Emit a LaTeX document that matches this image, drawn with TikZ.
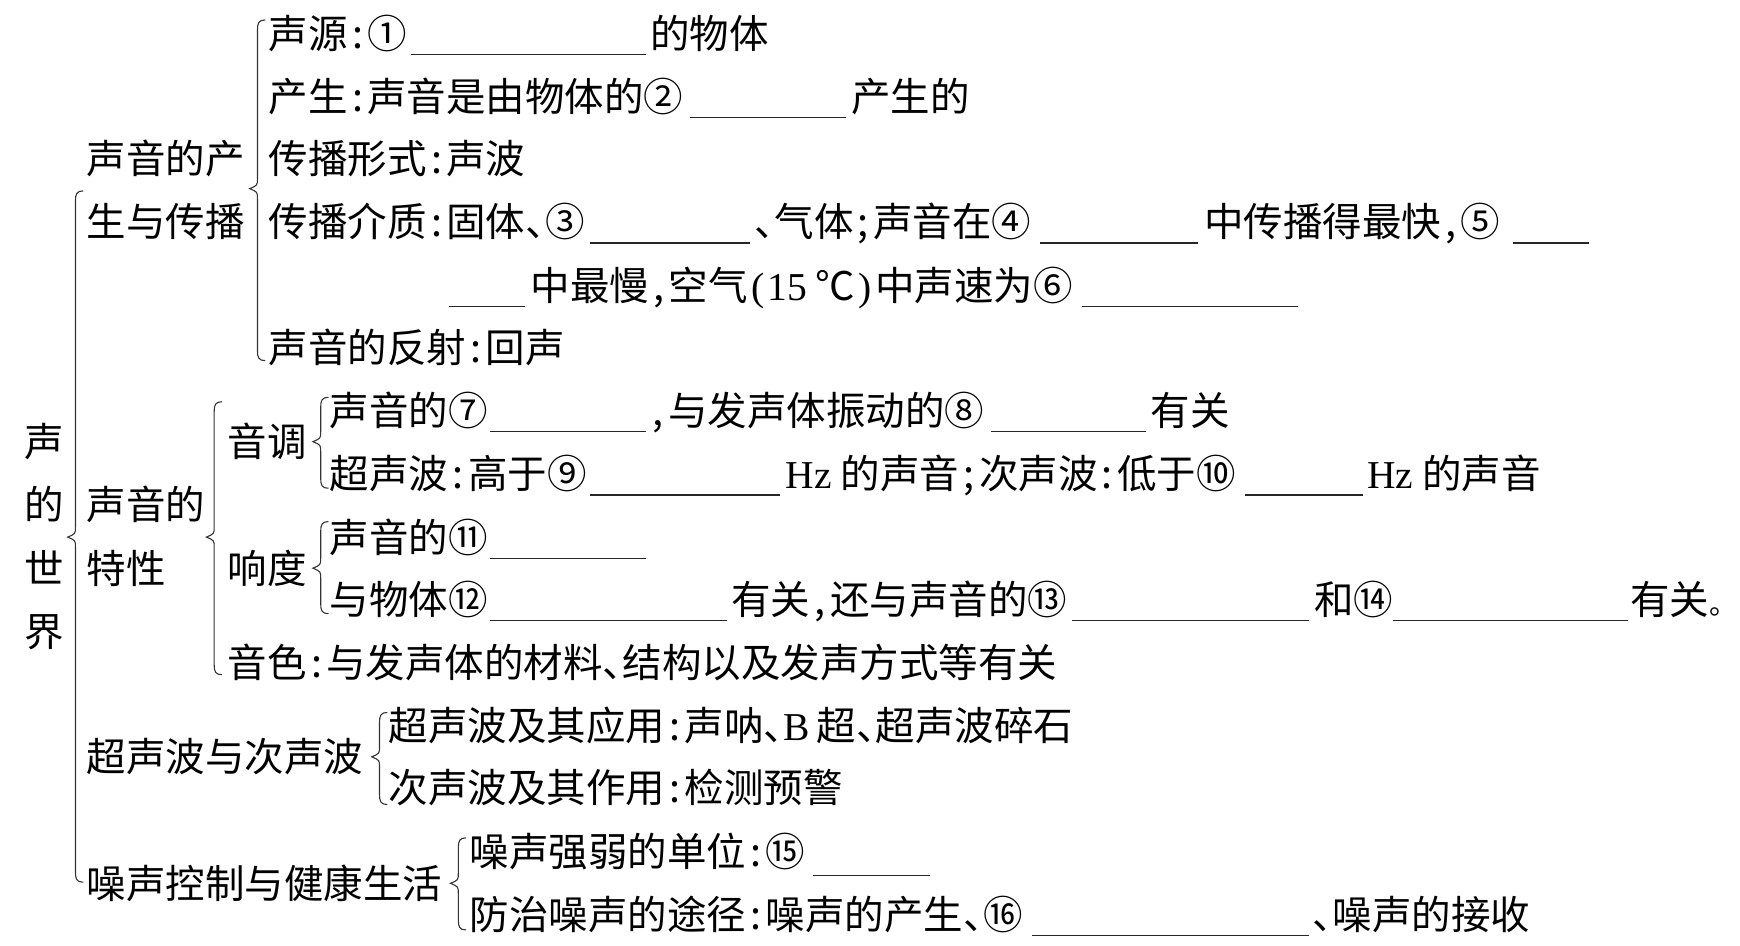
\documentclass[tikz,border=0pt]{standalone}
\usepackage{fontspec}
\setmainfont{Liberation Serif}
\newfontfamily\cjk{Noto Sans CJK SC}
\newcommand\hc[1]{\makebox[0.5em]{#1}}
\newcommand\hl[1]{\makebox[0.5em][l]{#1}}
\newcommand\lat[1]{{\rmfamily #1}}
\newcommand\mybrace[4]{%
  \draw[br] (#1+7,#2) .. controls (#1+1,#2) and (#1,#2+3) .. (#1,#2+9)
    -- (#1,#3-9) .. controls (#1,#3-3) .. (#1-7,#3)
    .. controls (#1,#3+3) .. (#1,#3+9)
    -- (#1,#4-9) .. controls (#1,#4-3) and (#1+1,#4) .. (#1+7,#4);}
\begin{document}
\begin{tikzpicture}[x=1.1097pt,y=-1.1097pt,
  t/.style={anchor=base west,inner sep=0pt,font=\cjk\fontsize{39.5}{40}\selectfont},
  tc/.style={anchor=base,inner sep=0pt,font=\cjk\fontsize{39.5}{40}\selectfont},
  bl/.style={line width=1.3pt,black!85},
  br/.style={line width=1.1pt,black!80}]
\useasboundingbox (0,0) rectangle (1568,852);
% vertical title
\node[tc] (w1) at (40,411.5) {声};
\node[tc] (w2) at (40,468.5) {的};
\node[tc] (w3) at (40,525.5) {世};
\node[tc] (w4) at (40,582.5) {界};
% braces
\mybrace{68}{172}{484}{795}
\mybrace{232}{18}{170}{325}
\mybrace{193}{362}{484}{608}
\mybrace{289}{358}{398}{440}
\mybrace{289}{470}{512}{553}
\mybrace{342}{642}{682}{725}
\mybrace{413}{755}{796}{838}
% level-1 labels
\node[t] (a1) at (78,156.5) {声音的产};
\node[t] (a2) at (78,213.5) {生与传播};
\node[t] (b1) at (78,468.5) {声音的};
\node[t] (b2) at (78,525.5) {特性};
\node[t] (c1) at (78,695.5) {超声波与次声波};
\node[t] (d1) at (78,809.5) {噪声控制与健康生活};
% level-2 labels
\node[t] (yd) at (205,411.5) {音调};
\node[t] (xd) at (205,525.5) {响度};
% R1
\node[t] (r1a) at (242,43.5) {声源\hc{:}①};
\draw[bl] (370,49) -- (582,49);
\node[t] (r1b) at (586,43.5) {的物体};
% R2
\node[t] (r2a) at (242,100.5) {产生\hc{:}声音是由物体的②};
\draw[bl] (622,106) -- (762,106);
\node[t] (r2b) at (767,100.5) {产生的};
% R3
\node[t] (r3a) at (242,156.5) {传播形式\hc{:}声波};
% R4
\node[t] (r4a) at (242,213.5) {传播介质\hc{:}固体\hl{、}③};
\draw[bl] (532,219) -- (676,219);
\node[t] (r4b) at (680,213.5) {\hl{、}气体\hc{;}声音在④};
\draw[bl] (937,219) -- (1080,219);
\node[t] (r4c) at (1085,213.5) {中传播得最快\hc{,}⑤};
\draw[bl] (1363,219) -- (1432,219);
% R5
\draw[bl] (405,276) -- (473,276);
\node[t] (r5a) at (478,270.5) {中最慢\hc{,}空气\makebox[0.5em]{\lat{(}}\lat{15} ℃\makebox[0.5em]{\lat{)}}中声速为⑥};
\draw[bl] (975,276) -- (1170,276);
% R6
\node[t] (r6a) at (242,326.5) {声音的反射\hc{:}回声};
% R7
\node[t] (r7a) at (297,383.5) {声音的⑦};
\draw[bl] (442,389) -- (582,389);
\node[t] (r7b) at (584,383.5) {\hc{,}与发声体振动的⑧};
\draw[bl] (893,389) -- (1033,389);
\node[t] (r7c) at (1037,383.5) {有关};
% R8
\node[t] (r8a) at (297,440.5) {超声波\hc{:}高于⑨};
\draw[bl] (532,446) -- (703,446);
\node[t] (r8b) at (708,440.5) {\lat{Hz} 的声音\hc{;}次声波\hc{:}低于⑩};
\draw[bl] (1122,446) -- (1228,446);
\node[t] (r8c) at (1232,440.5) {\lat{Hz} 的声音};
% R9
\node[t] (r9a) at (297,497.5) {声音的⑪};
\draw[bl] (442,503) -- (582,503);
% R10
\node[t] (r10a) at (297,553.5) {与物体⑫};
\draw[bl] (442,559) -- (655,559);
\node[t] (r10b) at (659,553.5) {有关\hc{,}还与声音的⑬};
\draw[bl] (966,559) -- (1180,559);
\node[t] (r10c) at (1184,553.5) {和⑭};
\draw[bl] (1255,559) -- (1467,559);
\node[t] (r10d) at (1469,553.5) {有关{\fontsize{28}{28}\selectfont 。}};
% R11
\node[t] (r11a) at (205,610.5) {音色\hc{:}与发声体的材料\hl{、}结构以及发声方式等有关};
% R12
\node[t] (r12a) at (350,667.5) {超声波及其应用\hc{:}声呐\hl{、}\lat{B}\,超\hl{、}超声波碎石};
% R13
\node[t] (r13a) at (350,723.5) {次声波及其作用\hc{:}检测预警};
% R14
\node[t] (r14a) at (423,780.5) {噪声强弱的单位\hc{:}⑮};
\draw[bl] (733,789) -- (838,789);
% R15
\node[t] (r15a) at (423,837.5) {防治噪声的途径\hc{:}噪声的产生\hl{、}⑯};
\draw[bl] (930,843) -- (1180,843);
\node[t] (r15b) at (1183,837.5) {\hl{、}噪声的接收};
\end{tikzpicture}
\end{document}
